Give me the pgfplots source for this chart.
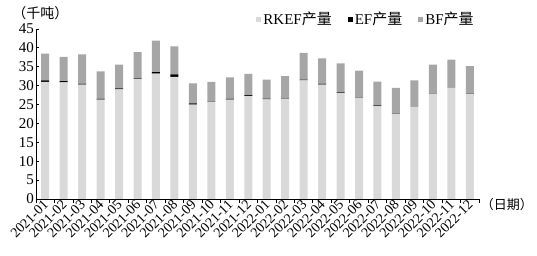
\documentclass[border=0pt]{standalone}
\usepackage{pgfplots}
\pgfplotsset{compat=1.18}
\usepackage{pgfplotstable}
\usepackage{fontspec}
\setmainfont{Liberation Serif}
\newfontfamily\cjk{Noto Sans CJK SC}
\definecolor{rkefc}{HTML}{D9D9D9}
\definecolor{bfc}{HTML}{A6A6A6}

\pgfplotstableread{
x rkef ef bf
0 31.0 0.4 7.1
1 30.9 0.3 6.4
2 30.3 0.2 7.8
3 26.3 0.2 7.3
4 29.0 0.3 6.3
5 31.8 0.15 6.95
6 33.2 0.4 8.3
7 32.3 0.7 7.4
8 25.0 0.3 5.3
9 25.7 0.05 5.25
10 26.3 0.2 5.7
11 27.3 0.2 5.6
12 26.4 0.2 5.0
13 26.5 0.1 5.9
14 31.4 0.2 7.1
15 30.3 0.2 6.7
16 28.0 0.2 7.7
17 26.7 0.1 7.2
18 24.6 0.2 6.3
19 22.5 0.1 6.8
20 24.4 0.0 7.0
21 27.8 0.05 7.75
22 29.4 0.0 7.5
23 27.8 0.1 7.3
}\datatable

\begin{document}
\begin{tikzpicture}
\begin{axis}[
  scale only axis, width=443pt, height=170pt,
  ybar stacked, bar width=8pt,
  xmin=-0.5, xmax=23.5, ymin=0, ymax=45,
  ytick={0,5,...,45},
  xtick={0,...,23},
  xticklabels={2021-01,2021-02,2021-03,2021-04,2021-05,2021-06,2021-07,2021-08,2021-09,2021-10,2021-11,2021-12,2022-01,2022-02,2022-03,2022-04,2022-05,2022-06,2022-07,2022-08,2022-09,2022-10,2022-11,2022-12},
  minor xtick={-0.5,0.5,...,23.5},
  axis x line=bottom, axis y line=left,
  axis line style={-, black, line width=0.8pt},
  tick align=inside,
  major tick length=3pt, minor tick length=4pt,
  major x tick style={draw=none},
  minor x tick style={black, line width=0.8pt, yshift=-4pt},
  major y tick style={black, line width=0.8pt},
  /pgf/number format/assume math mode=true,
  x tick label style={rotate=45, anchor=east, yshift=-3pt, xshift=-1pt, inner sep=1pt, font=\fontsize{14}{14}\selectfont},
  y tick label style={font=\fontsize{15}{15}\selectfont, inner sep=2pt},
  legend style={at={(0.745,1.058)}, anchor=center, draw=none, fill=none,
    legend columns=3, font=\fontsize{15}{15}\selectfont,
    /tikz/every even column/.append style={column sep=14pt}},
  legend image code/.code={\fill[#1] (0pt,-2.5pt) rectangle (5pt,2.5pt);},
  clip=false,
]
\addplot[fill=rkefc, draw=none] table[x=x, y=rkef] {\datatable};
\addlegendentry{RKEF{\cjk 产量}}
\addplot[fill=black, draw=none] table[x=x, y=ef] {\datatable};
\addlegendentry{EF{\cjk 产量}}
\addplot[fill=bfc, draw=none] table[x=x, y=bf] {\datatable};
\addlegendentry{BF{\cjk 产量}}
\node[font=\fontsize{14}{14}\selectfont\cjk] at (rel axis cs:0.01,1.094) {（千吨）};
\node[font=\fontsize{13}{13}\selectfont\cjk] at (rel axis cs:1.063,-0.03) {（日期）};
\end{axis}
\path (-36pt,-57pt) rectangle (501pt,199pt);
\end{tikzpicture}
\end{document}
